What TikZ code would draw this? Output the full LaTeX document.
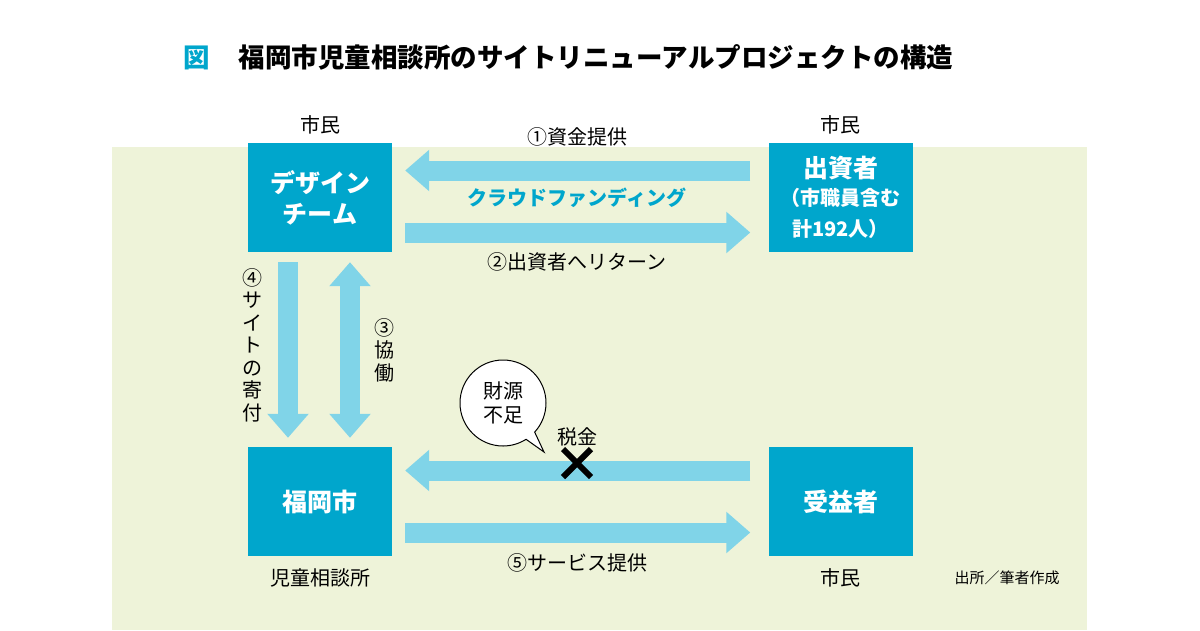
\documentclass[tikz,border=0pt]{standalone}
\usepackage{fontspec}
\setmainfont{Noto Sans CJK JP}
\usetikzlibrary{arrows.meta,positioning,shapes.callouts}
\definecolor{boxblue}{HTML}{00A6CC}
\definecolor{arrowblue}{HTML}{80D4E8}
\definecolor{bggreen}{HTML}{EEF3D9}
\newcommand{\smallbox}{\fontsize{20}{25}\selectfont}
\tikzset{
  actor/.style={fill=boxblue, text=white, font=\bfseries\fontsize{25}{31}\selectfont,
    minimum width=144pt, minimum height=109pt, inner sep=0pt, align=center},
  label/.style={font=\fontsize{20}{24}\selectfont, inner sep=0pt},
  flow/.style={arrowblue, line width=20pt, -{Triangle[width=40pt,length=24pt]}},
  twoflow/.style={arrowblue, line width=20pt, {Triangle[width=40pt,length=24pt]}-{Triangle[width=40pt,length=24pt]}},
}
\begin{document}
\begin{tikzpicture}[x=1pt,y=-1pt]
  \useasboundingbox (0,0) rectangle (1200,630);
  \fill[bggreen] (112,147) rectangle (1087,630);

  % Titel
  \node[anchor=west, inner sep=0pt, font=\bfseries\fontsize{26.5}{30}\selectfont] (title) at (183,57)
    {\textcolor{boxblue}{図}\hspace{1.1em}福岡市児童相談所のサイトリニューアルプロジェクトの構造};

  % Akteure
  \node[actor] (design) at (320,197.5) {デザイン\\チーム};
  \node[actor] (investor) at (840.5,197.5) {出資者\\[-3pt]\smallbox （市職員含む\\\smallbox 計192人）};
  \node[actor] (city) at (320,501.5) {福岡市};
  \node[actor] (benef) at (840.5,501.5) {受益者};

  % Pfeile
  \draw[flow, shorten <=18pt, shorten >=13pt] ([yshift=27pt]investor.west) -- ([yshift=27pt]design.east);
  \draw[flow, shorten <=13pt, shorten >=18pt] ([yshift=-35pt]design.east) -- ([yshift=-35pt]investor.west);
  \draw[flow, shorten <=10pt, shorten >=9pt] ([xshift=-32pt]design.south) -- ([xshift=-32pt]city.north);
  \draw[twoflow, shorten <=10pt, shorten >=9pt] ([xshift=30pt]design.south) -- ([xshift=30pt]city.north);
  \draw[flow, shorten <=18pt, shorten >=13pt] ([yshift=31pt]benef.west) -- ([yshift=31pt]city.east);
  \draw[flow, shorten <=13pt, shorten >=18pt] ([yshift=-31pt]city.east) -- ([yshift=-31pt]benef.west);

  % Beschriftungen
  \node[label] (cit1) at (320,125) {市民};
  \node[label] (cit2) at (840.5,125) {市民};
  \node[label] (fund) at (577,137) {①資金提供};
  \node[label, text=boxblue, font=\bfseries\fontsize{20}{24}\selectfont] (crowd) at (577,198) {クラウドファンディング};
  \node[label] (ret) at (577,262) {②出資者へリターン};
  \node[label] (serv) at (577,563) {⑤サービス提供};
  \node[label] (child) at (320,578) {児童相談所};
  \node[label] (cit3) at (840.5,578) {市民};
  \node[label, font=\fontsize{15}{18}\selectfont] (src) at (1007,578) {出所／筆者作成};
  \node[label, align=center, anchor=north, font=\fontsize{20}{22.5}\selectfont] (donate) at (252,268) {④\\サ\\イ\\ト\\の\\寄\\付};
  \node[label, align=center, anchor=north, font=\fontsize{20}{22.5}\selectfont] (cowork) at (384,318) {③\\協\\働};
  \node[label] (tax) at (577,437) {税金};

  % Sprechblase
  \node[ellipse callout, draw=black, fill=white, line width=1pt, minimum width=86pt, minimum height=86pt,
    callout absolute pointer={(544,452)}, align=center, font=\fontsize{20}{24}\selectfont] (short) at (503,403) {財源\\不足};

  % Kreuz
  \draw[line width=6pt] (563,449) -- (591,477) (591,449) -- (563,477);
\end{tikzpicture}
\end{document}
